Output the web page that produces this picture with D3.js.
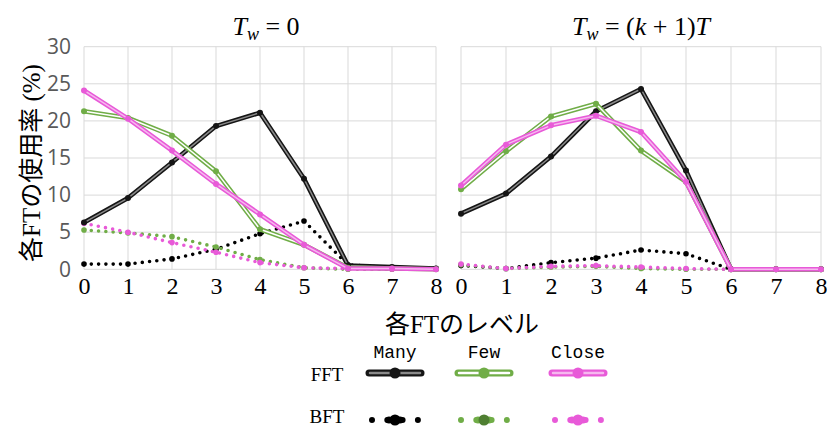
<!DOCTYPE html>
<html>
<head>
<meta charset="utf-8">
<script src="https://cdn.jsdelivr.net/npm/d3@7/dist/d3.min.js"></script>
<style>
  html, body { margin: 0; padding: 0; background: #fff; }
  svg { display: block; }
</style>
</head>
<body>
<svg id="chart" width="827" height="428"></svg>
<script>
// FT levels on the x axis
const levels = [0, 1, 2, 3, 4, 5, 6, 7, 8];
const yTicks = [0, 5, 10, 15, 20, 25, 30];

// Usage rate (%) per level, panel T_w = 0
const fftMany0  = [6.3, 9.6, 14.4, 19.3, 21.1, 12.2, 0.5, 0.3, 0.1];
const fftFew0   = [21.3, 20.4, 18.0, 13.2, 5.4, 3.3, 0.2, 0.1, 0.0];
const fftClose0 = [24.1, 20.3, 16.0, 11.5, 7.4, 3.3, 0.1, 0.1, 0.0];
const bftMany0  = [0.7, 0.7, 1.4, 2.7, 4.8, 6.5, 0.6, 0.2, 0.1];
const bftFew0   = [5.3, 4.9, 4.4, 3.0, 1.3, 0.2, 0.0, 0.0, 0.0];
const bftClose0 = [6.2, 5.0, 3.6, 2.3, 0.9, 0.2, 0.1, 0.0, 0.0];

// Usage rate (%) per level, panel T_w = (k+1)T
const fftMany1  = [7.5, 10.2, 15.2, 21.3, 24.3, 13.3, 0.0, 0.0, 0.0];
const fftFew1   = [10.8, 15.9, 20.6, 22.3, 16.0, 11.8, 0.0, 0.0, 0.0];
const fftClose1 = [11.3, 16.8, 19.4, 20.7, 18.5, 11.8, 0.0, 0.0, 0.0];
const bftMany1  = [0.5, 0.1, 0.9, 1.5, 2.6, 2.1, 0.0, 0.0, 0.0];
const bftFew1   = [0.6, 0.1, 0.3, 0.4, 0.1, 0.0, 0.0, 0.0, 0.0];
const bftClose1 = [0.7, 0.1, 0.4, 0.5, 0.3, 0.1, 0.0, 0.0, 0.0];

const groupNames = ["Many", "Few", "Close"];
const typeNames = ["FFT", "BFT"];

// Colour and stroke styling per group
const styles = {
  Many:  { color: "#151515", dot: "#000000", inner: "#8a8a8a", bftMarker: "#000000" },
  Few:   { color: "#70ad47", dot: "#70ad47", inner: "#ffffff", bftMarker: "#4f7f32" },
  Close: { color: "#e85ad8", dot: "#e85ad8", inner: "#f6b8ef", bftMarker: "#e85ad8" }
};

const panels = [
  { range: [84, 436], fft: [fftMany0, fftFew0, fftClose0], bft: [bftMany0, bftFew0, bftClose0], title: "0", dx: 6 },
  { range: [461, 821], fft: [fftMany1, fftFew1, fftClose1], bft: [bftMany1, bftFew1, bftClose1], title: "(k+1)T", dx: 0 }
];

const serif = "'Liberation Serif', 'Times New Roman', serif";

const svg = d3.select("#chart");
svg.append("rect").attr("width", 827).attr("height", 428).attr("fill", "#fff");

const y = d3.scaleLinear().domain([0, 30]).range([269.3, 46.7]);

panels.forEach((p, pi) => {
  const x = d3.scaleLinear().domain([0, 8]).range(p.range);
  const g = svg.append("g");

  // gridlines
  g.append("g").selectAll("line").data(yTicks).join("line")
    .attr("x1", p.range[0]).attr("x2", p.range[1])
    .attr("y1", d => y(d)).attr("y2", d => y(d))
    .attr("stroke", "#d9d9d9").attr("stroke-width", 1);
  g.append("g").selectAll("line").data(levels).join("line")
    .attr("x1", d => x(d)).attr("x2", d => x(d))
    .attr("y1", y(0)).attr("y2", y(30))
    .attr("stroke", "#d9d9d9").attr("stroke-width", 1);

  // x axis tick labels
  const xAxis = d3.axisBottom(x).tickValues(levels).tickSize(0).tickPadding(8).tickFormat(d3.format("d"));
  const xa = g.append("g").attr("transform", `translate(0,${y(0)})`).call(xAxis);
  xa.attr("font-family", serif).attr("font-size", 24);
  xa.select(".domain").remove();
  xa.selectAll("text").attr("fill", "#000");

  // y axis tick labels (left panel only)
  if (pi === 0) {
    const yAxis = d3.axisLeft(y).tickValues(yTicks).tickSize(0).tickPadding(13);
    const ya = g.append("g").attr("transform", `translate(${p.range[0]},0)`).call(yAxis);
    ya.attr("font-family", "'Open Sans', 'Noto Sans', sans-serif").attr("font-size", 21);
    ya.select(".domain").remove();
    ya.selectAll("text").attr("fill", "#595959");
  }

  const line = d3.line().x((d, i) => x(levels[i])).y(d => y(d));

  // BFT series: round-dotted lines
  p.bft.forEach((vals, si) => {
    const st = styles[groupNames[si]];
    g.append("path").attr("d", line(vals))
      .attr("fill", "none").attr("stroke", st.dot)
      .attr("stroke-width", 3.6).attr("stroke-linecap", "round")
      .attr("stroke-dasharray", "0 7.3");
    g.append("g").selectAll("circle").data(vals).join("circle")
      .attr("cx", (d, i) => x(levels[i])).attr("cy", d => y(d)).attr("r", 2.8)
      .attr("fill", st.dot);
  });

  // FFT series: compound (double) lines with markers
  p.fft.forEach((vals, si) => {
    const st = styles[groupNames[si]];
    g.append("path").attr("d", line(vals))
      .attr("fill", "none").attr("stroke", st.color)
      .attr("stroke-width", 4.6).attr("stroke-linejoin", "round");
    g.append("path").attr("d", line(vals))
      .attr("fill", "none").attr("stroke", st.inner)
      .attr("stroke-width", 1.5).attr("stroke-linejoin", "round");
    g.append("g").selectAll("circle").data(vals).join("circle")
      .attr("cx", (d, i) => x(levels[i])).attr("cy", d => y(d)).attr("r", 3)
      .attr("fill", st.color);
  });

  // panel title: T_w = ...
  const t = svg.append("text")
    .attr("x", (p.range[0] + p.range[1]) / 2 + p.dx).attr("y", 35)
    .attr("text-anchor", "middle")
    .attr("font-family", serif)
    .attr("font-size", 26).attr("fill", "#000");
  t.append("tspan").attr("font-style", "italic").text("T");
  t.append("tspan").attr("font-style", "italic").attr("font-size", 18).attr("dy", 5).text("w");
  t.append("tspan").attr("dy", -5).text(" = ");
  if (p.title === "0") {
    t.append("tspan").text("0");
  } else {
    t.append("tspan").text("(");
    t.append("tspan").attr("font-style", "italic").text("k");
    t.append("tspan").text(" + 1)");
    t.append("tspan").attr("font-style", "italic").text("T");
  }
});

// axis titles
svg.append("text")
  .attr("x", 462).attr("y", 333).attr("text-anchor", "middle")
  .attr("font-family", "'Liberation Serif', 'Noto Sans CJK JP', serif")
  .attr("font-size", 25).attr("fill", "#000")
  .text("各FTのレベル");

svg.append("text")
  .attr("transform", "translate(40,163) rotate(-90)")
  .attr("text-anchor", "middle")
  .attr("font-family", "'Liberation Serif', 'Noto Sans CJK JP', serif")
  .attr("font-size", 25).attr("fill", "#000")
  .text("各FTの使用率 (%)");

// legend
const legendCols = [395, 484, 578];
const legendRows = [373, 420];
const leg = svg.append("g");
groupNames.forEach((name, i) => {
  leg.append("text")
    .attr("x", legendCols[i]).attr("y", 358).attr("text-anchor", "middle")
    .attr("font-family", "'Liberation Mono', 'Courier New', monospace")
    .attr("font-size", 18).attr("fill", "#000").text(name);
});
typeNames.forEach((name, j) => {
  leg.append("text")
    .attr("x", 327).attr("y", j === 0 ? legendRows[0] + 8 : 423).attr("text-anchor", "middle")
    .attr("font-family", serif)
    .attr("font-size", 19).attr("fill", "#000").text(name);
});
groupNames.forEach((name, i) => {
  const st = styles[name];
  const cx = legendCols[i];
  const yF = legendRows[0], yB = legendRows[1];
  // FFT sample
  leg.append("line").attr("x1", cx - 26).attr("x2", cx + 26).attr("y1", yF).attr("y2", yF)
    .attr("stroke", st.color).attr("stroke-width", 7).attr("stroke-linecap", "round");
  leg.append("line").attr("x1", cx - 25).attr("x2", cx + 25).attr("y1", yF).attr("y2", yF)
    .attr("stroke", st.inner).attr("stroke-width", 2.5).attr("stroke-linecap", "round");
  leg.append("circle").attr("cx", cx).attr("cy", yF).attr("r", 5.5).attr("fill", st.color);
  // BFT sample
  leg.append("line").attr("x1", cx - 23).attr("x2", cx + 23).attr("y1", yB).attr("y2", yB)
    .attr("stroke", st.dot).attr("stroke-width", 6).attr("stroke-linecap", "round")
    .attr("stroke-dasharray", "0 15.3");
  leg.append("circle").attr("cx", cx - 6).attr("cy", yB).attr("r", 3.5).attr("fill", st.dot);
  leg.append("circle").attr("cx", cx + 5).attr("cy", yB).attr("r", 3.5).attr("fill", st.dot);
  leg.append("circle").attr("cx", cx).attr("cy", yB).attr("r", 5.5).attr("fill", st.bftMarker);
});
</script>
</body>
</html>
